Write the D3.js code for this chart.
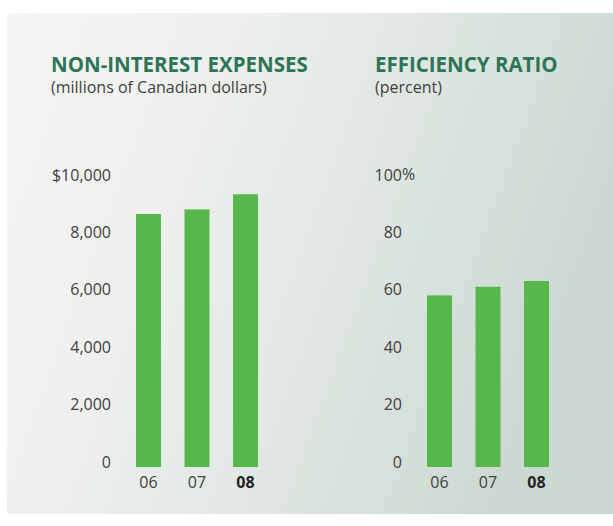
<!DOCTYPE html>
<html>
<head>
<meta charset="utf-8">
<script src="https://cdn.jsdelivr.net/npm/d3@7"></script>
<style>
  body { margin: 0; background: #fff; }
  text { font-family: "Open Sans", sans-serif; }
</style>
</head>
<body>
<div id="main"></div>
<script>
// data
var years = ["06", "07", "08"];
var expenses = [8815, 8975, 9502];        // millions of CAD
var efficiency = [59.8, 62.8, 64.8];      // percent
var expenseTicks = [0, 2000, 4000, 6000, 8000, 10000];
var ratioTicks = [0, 20, 40, 60, 80, 100];

var svg = d3.select("#main").append("svg")
    .attr("width", 613)
    .attr("height", 526);

// background panel with soft gradient
var grad = svg.append("defs").append("linearGradient")
    .attr("id", "bg")
    .attr("x1", 0).attr("y1", 0)
    .attr("x2", 1).attr("y2", 0.3);
grad.append("stop").attr("offset", "0").attr("stop-color", "#f5f6f4");
grad.append("stop").attr("offset", "0.3").attr("stop-color", "#eff1ee");
grad.append("stop").attr("offset", "0.65").attr("stop-color", "#e0e7e2");
grad.append("stop").attr("offset", "1").attr("stop-color", "#ccd9d2");

svg.append("rect")
    .attr("x", 7).attr("y", 13)
    .attr("width", 606).attr("height", 501)
    .attr("fill", "url(#bg)");

function drawChart(opts) {
  var g = svg.append("g");

  g.append("text")
      .attr("x", opts.titleX).attr("y", 72)
      .attr("font-size", 20.5)
      .attr("font-weight", 700)
      .attr("fill", "#2e7556")
      .text(opts.title);
  g.append("text")
      .attr("x", opts.titleX).attr("y", 93)
      .attr("font-size", 16)
      .attr("fill", "#404040")
      .text(opts.subtitle);

  var x = d3.scaleBand()
      .domain(years)
      .range(opts.xRange)
      .paddingInner(0.485)
      .paddingOuter(0);

  var y = d3.scaleLinear()
      .domain([0, opts.max])
      .range([467, 180]);

  g.selectAll("rect.bar")
    .data(opts.values)
    .enter().append("rect")
      .attr("class", "bar")
      .attr("x", function(d, i) { return x(years[i]); })
      .attr("y", function(d) { return y(d); })
      .attr("width", x.bandwidth())
      .attr("height", function(d) { return y(0) - y(d); })
      .attr("fill", "#56b84a");

  // y axis: labels only, baseline sits on the value
  var yAxis = g.append("g")
      .attr("transform", "translate(" + opts.labelX + ",0)")
      .call(d3.axisLeft(y).tickValues(opts.ticks).tickSize(0).tickPadding(0).tickFormat(opts.fmt));
  yAxis.select(".domain").remove();
  yAxis.selectAll("text")
      .attr("dy", 0)
      .attr("font-size", 16)
      .attr("fill", "#404040")
      .style("font-family", "'Open Sans', sans-serif");

  if (opts.suffix) {
    g.append("text")
        .attr("x", opts.labelX).attr("y", y(opts.max))
        .attr("font-size", 16)
        .attr("fill", "#404040")
        .text(opts.suffix);
  }

  // x axis
  var xAxis = g.append("g")
      .attr("transform", "translate(0," + y(0) + ")")
      .call(d3.axisBottom(x).tickSize(0).tickPadding(0));
  xAxis.select(".domain").remove();
  xAxis.selectAll("text")
      .attr("dy", 0)
      .attr("y", 21)
      .attr("font-size", 16)
      .attr("fill", function(d) { return d === "08" ? "#222" : "#404040"; })
      .attr("font-weight", function(d) { return d === "08" ? 700 : 400; })
      .style("font-family", "'Open Sans', sans-serif");
}

drawChart({
  title: "NON-INTEREST EXPENSES",
  subtitle: "(millions of Canadian dollars)",
  titleX: 51,
  xRange: [136, 258],
  labelX: 111,
  max: 10000,
  ticks: expenseTicks,
  values: expenses,
  fmt: function(d) { return d === 10000 ? "$" + d3.format(",")(d) : d3.format(",")(d); }
});

drawChart({
  title: "EFFICIENCY RATIO",
  subtitle: "(percent)",
  titleX: 375,
  xRange: [427, 549],
  labelX: 402,
  max: 100,
  ticks: ratioTicks,
  values: efficiency,
  fmt: function(d) { return d; },
  suffix: "%"
});
</script>
</body>
</html>
